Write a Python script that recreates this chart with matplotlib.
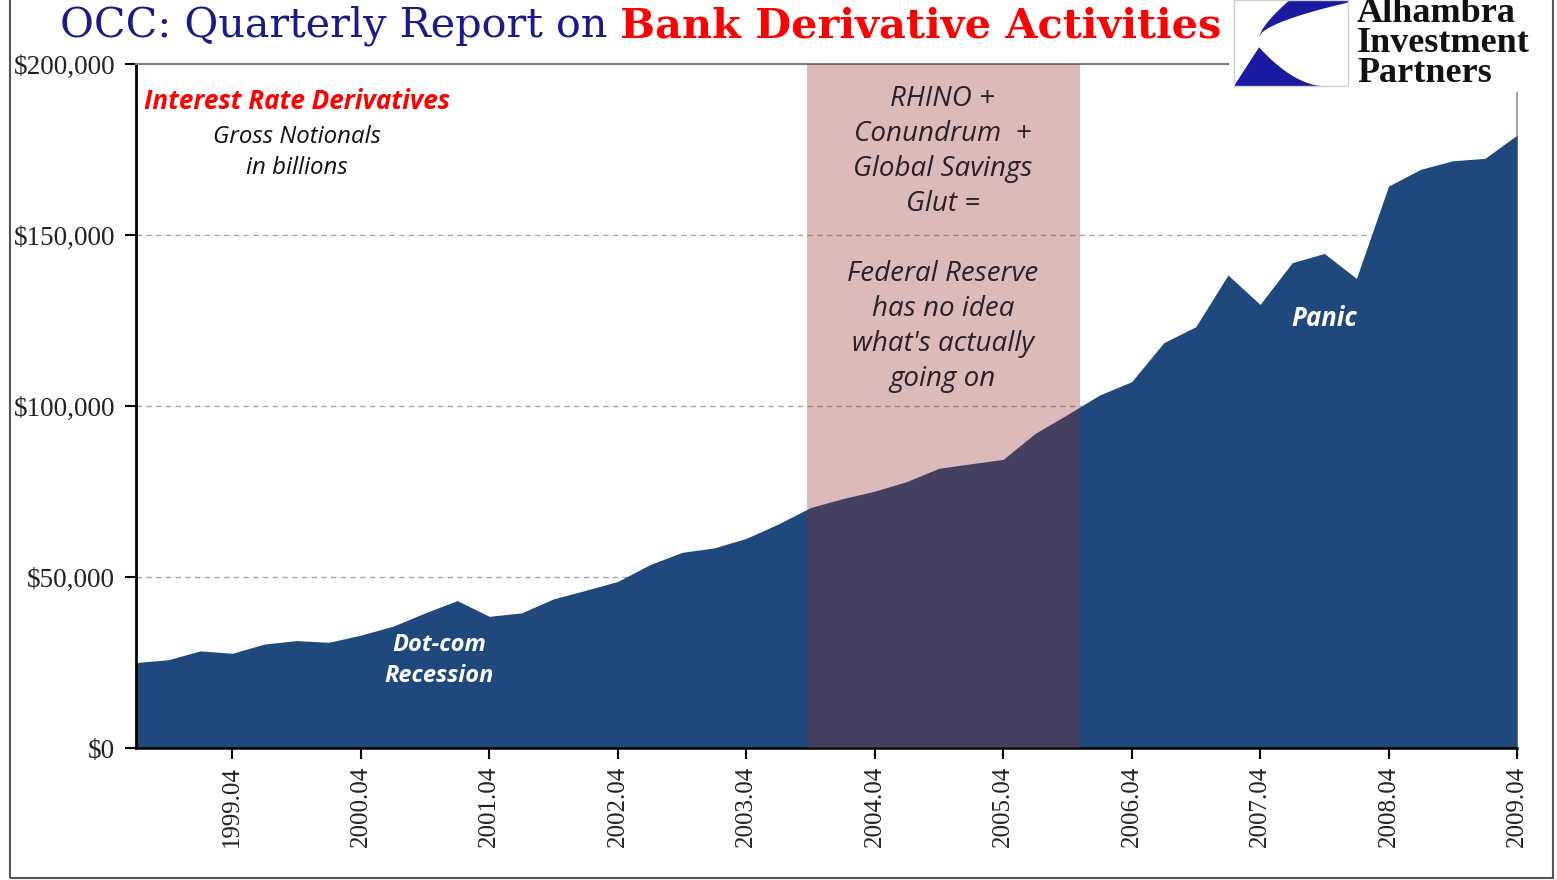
import matplotlib
matplotlib.use("Agg")
import numpy as np
import matplotlib.pyplot as plt
from matplotlib.patches import Rectangle, Polygon
from matplotlib.ticker import FuncFormatter

# quarterly periods, labelled the way the source sheet does (year.quarter)
PERIODS = [f"{y}.{q:02d}" for y in range(1999, 2010) for q in range(1, 5)]

# interest rate derivatives, gross notionals, $ billions
IR_NOTIONALS = [25000, 25800, 28400, 27700, 30400, 31400, 30900, 33000, 35600, 39500,
                43100, 38500, 39500, 43600, 46100, 48700, 53600, 57200, 58500, 61300,
                65500, 70300, 72900, 75100, 77900, 81800, 83100, 84400, 92000, 97500,
                103200, 107100, 118500, 123200, 138300, 129700, 141900, 144600, 137300, 164300,
                169200, 171700, 172400, 179200]

# "RHINO + Conundrum" window, in quarter index units
SHADE_SPAN = (20.88, 29.38)

AREA_COLOR = "#1f497d"
SHADE_COLOR = "#922e2b"
NOTE_FONT = "Open Sans"
W, H = 1557, 880


def fx(px):
    return px / W


def fy(py):
    return 1 - py / H


fig = plt.figure(figsize=(W / 100, H / 100), dpi=100)
fig.patch.set_facecolor("white")

ax = fig.add_axes([fx(136), fy(748), fx(1517 - 136), 684 / H])
x = np.arange(len(IR_NOTIONALS))
ax.fill_between(x, IR_NOTIONALS, color=AREA_COLOR, lw=0, zorder=2)
ax.axvspan(*SHADE_SPAN, color=SHADE_COLOR, alpha=0.33, lw=0, zorder=3)
for v in (50000, 100000, 150000):
    ax.axhline(v, color="#a6a6a6", lw=1, ls=(0, (4, 3)), zorder=1)

ax.set_xlim(0, len(x) - 1)
ax.set_ylim(0, 200000)
ax.set_yticks(range(0, 200001, 50000))
ax.yaxis.set_major_formatter(FuncFormatter(lambda v, _: f"${v:,.0f}"))
ax.set_xticks(x[3::4])
ax.set_xticklabels(PERIODS[3::4], rotation=90)
ax.tick_params(axis="both", direction="out", length=8, width=1.5, color="black",
               labelcolor="#222222")
ax.tick_params(axis="y", pad=7, labelsize=19.5)
ax.tick_params(axis="x", pad=5, labelsize=18)
for lab in ax.get_xticklabels() + ax.get_yticklabels():
    lab.set_family("Liberation Serif")

ax.spines["left"].set_linewidth(2)
ax.spines["bottom"].set_linewidth(1.8)
ax.spines["top"].set_color("#808080")
ax.spines["top"].set_linewidth(1.5)
ax.spines["right"].set_color("#909090")
ax.spines["right"].set_linewidth(1.2)
ax.spines["right"].set_zorder(0)

# annotations
ax.text(5.0, 189000, "Interest Rate Derivatives", color="#ff0000", fontsize=18.8,
        fontstyle="italic", fontweight="bold", family=NOTE_FONT, ha="center", va="center")
ax.text(5.0, 174200, "Gross Notionals\nin billions", color="#111111", fontsize=17.3,
        fontstyle="italic", family=NOTE_FONT, ha="center", va="center", linespacing=1.38)
ax.text(9.45, 25600, "Dot-com\nRecession", color="white", fontsize=17,
        fontstyle="italic", fontweight="bold", family=NOTE_FONT, ha="center", va="center",
        linespacing=1.38, zorder=5)
ax.text(37.0, 125500, "Panic", color="white", fontsize=18.5,
        fontstyle="italic", fontweight="bold", family=NOTE_FONT, ha="center", va="center", zorder=5)
ax.text(25.12, 148800,
        "RHINO +\nConundrum  +\nGlobal Savings\nGlut =\n\nFederal Reserve\nhas no idea\n"
        "what's actually\ngoing on",
        color="#2a1f2a", fontsize=20, fontstyle="italic", family=NOTE_FONT,
        ha="center", va="center", linespacing=1.33, zorder=5)

# two-colour title
t1 = fig.text(fx(60), fy(26), "OCC: Quarterly Report on ", color="#1a1a8c",
              fontsize=29.8, family="DejaVu Serif", va="center", ha="left")
fig.canvas.draw()
bb = t1.get_window_extent(fig.canvas.get_renderer())
fig.text(bb.x1 / W, fy(26), "Bank Derivative Activities", color="#ff0000",
         fontsize=29.8, family="DejaVu Serif", fontweight="bold", va="center", ha="left")

# white backdrop for the logo block (hides the plot border behind it)
fig.add_artist(Rectangle((fx(1229), fy(92)), fx(1550 - 1229), 92 / H, facecolor="white",
                         edgecolor="none", transform=fig.transFigure, zorder=1))

# logo box
lax = fig.add_axes([fx(1234), fy(86), fx(1348 - 1234), 86 / H])
lax.set_zorder(2)
lax.set_xlim(0, 1)
lax.set_ylim(0, 1)
lax.set_xticks([])
lax.set_yticks([])
for s in lax.spines.values():
    s.set_color("#d0d0d0")
    s.set_linewidth(1)
t = np.linspace(0, 1, 30)
# upper sweep: top edge -> tip on the left
up_outer = np.column_stack([0.22 + (0.49 - 0.22) * t ** 0.7, 0.57 + 0.43 * np.sqrt(t)])
up_inner = np.column_stack([0.22 + 0.78 * t, 0.57 + 0.40 * t ** 0.6])
upper = np.vstack([up_outer, [[1.0, 1.0]], up_inner[::-1]])
lax.add_patch(Polygon(upper, closed=True, color="#1a1aa0", lw=0))
# lower wedge
lo_curve = np.column_stack([0.22 + 0.56 * t, 0.45 * (1 - t) ** 1.8])
lower = np.vstack([[[0.0, 0.0]], lo_curve, [[0.0, 0.0]]])
lax.add_patch(Polygon(lower, closed=True, color="#1a1aa0", lw=0))

fig.text(fx(1357), fy(43), "Alhambra\nInvestment\nPartners", color="#111111",
         fontsize=26, family="Liberation Serif", fontweight="bold", ha="left", va="center",
         linespacing=0.88, zorder=3)

# outer chart frame
fig.add_artist(Rectangle((fx(10), fy(878)), fx(1553 - 10), 1.2, fill=False,
                         edgecolor="#555555", lw=1.5, transform=fig.transFigure, clip_on=False))

fig.savefig("out.png", dpi=100)
